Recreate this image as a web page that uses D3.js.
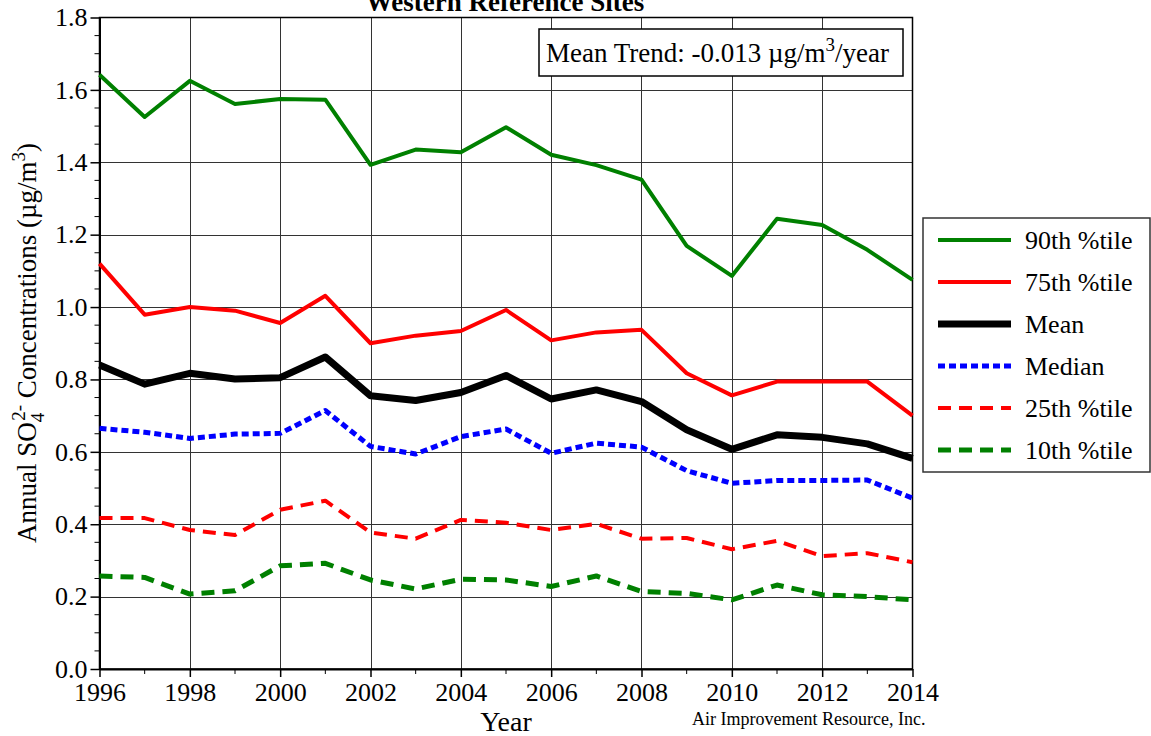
<!DOCTYPE html>
<html>
<head>
<meta charset="utf-8">
<script src="https://cdn.jsdelivr.net/npm/d3@7"></script>
<style>
  body { margin: 0; background: #fff; }
  svg { font-family: "Liberation Serif", "Times New Roman", serif; }
</style>
</head>
<body>
<svg width="1151" height="736"></svg>
<script>
// years on the x axis
const years = d3.range(1996, 2015);

// series values (ug/m3)
const p90 = [1.642, 1.525, 1.625, 1.561, 1.575, 1.573, 1.393, 1.435, 1.428, 1.497,
             1.421, 1.392, 1.352, 1.169, 1.086, 1.244, 1.227, 1.158, 1.075];
const p75 = [1.120, 0.979, 1.000, 0.990, 0.956, 1.031, 0.900, 0.921, 0.934, 0.992,
             0.908, 0.930, 0.937, 0.817, 0.756, 0.794, 0.794, 0.794, 0.700];
const mean = [0.840, 0.787, 0.817, 0.801, 0.805, 0.862, 0.755, 0.742, 0.764, 0.811,
              0.746, 0.771, 0.739, 0.661, 0.607, 0.647, 0.640, 0.622, 0.582];
const median = [0.665, 0.654, 0.637, 0.649, 0.651, 0.714, 0.615, 0.594, 0.642, 0.663,
                0.596, 0.624, 0.613, 0.548, 0.513, 0.521, 0.521, 0.522, 0.472];
const p25 = [0.417, 0.417, 0.384, 0.370, 0.440, 0.465, 0.377, 0.360, 0.412, 0.404,
             0.384, 0.401, 0.360, 0.362, 0.331, 0.354, 0.312, 0.320, 0.295];
const p10 = [0.257, 0.253, 0.207, 0.216, 0.285, 0.292, 0.246, 0.221, 0.248, 0.246,
             0.228, 0.257, 0.214, 0.209, 0.191, 0.232, 0.205, 0.200, 0.191];

const seriesNames = ["90th %tile", "75th %tile", "Mean", "Median", "25th %tile", "10th %tile"];
const xTicks = d3.range(1996, 2015, 2);
const yTicks = d3.range(0, 1.81, 0.2);

// line styles per series
const styles = [
  { color: "#008000", width: 4, dash: null },
  { color: "#ff0000", width: 4, dash: null },
  { color: "#000000", width: 7, dash: null },
  { color: "#0000ff", width: 5, dash: "7,4" },
  { color: "#ff0000", width: 4, dash: "13,8" },
  { color: "#008000", width: 5, dash: "13,8" }
];
const allSeries = [p90, p75, mean, median, p25, p10];

const svg = d3.select("svg");
const pLeft = 99.5, pRight = 912.5, pTop = 17.5, pBottom = 669;

const x = d3.scaleLinear().domain([1996, 2014]).range([pLeft, pRight]);
const y = d3.scaleLinear().domain([0, 1.8]).range([pBottom, pTop]);

// gridlines
const grid = svg.append("g").attr("stroke", "#333").attr("stroke-width", 1);
grid.selectAll(".gx").data(xTicks.slice(1, -1)).enter().append("line")
  .attr("x1", d => Math.round(x(d)) + 0.5).attr("x2", d => Math.round(x(d)) + 0.5)
  .attr("y1", pTop).attr("y2", pBottom);
grid.selectAll(".gy").data(yTicks.slice(1, -1)).enter().append("line")
  .attr("y1", d => Math.round(y(d)) + 0.5).attr("y2", d => Math.round(y(d)) + 0.5)
  .attr("x1", pLeft).attr("x2", pRight);

// frame
svg.append("rect")
  .attr("x", pLeft).attr("y", pTop).attr("width", pRight - pLeft).attr("height", pBottom - pTop)
  .attr("fill", "none").attr("stroke", "#000").attr("stroke-width", 1.5);

// axes
const xAxis = svg.append("g")
  .attr("transform", `translate(0,${pBottom})`)
  .call(d3.axisBottom(x).tickValues(xTicks).tickFormat(d3.format("d")).tickSize(8).tickSizeOuter(0).tickPadding(6));
xAxis.append("g").selectAll("line").data(d3.range(1997, 2014, 2)).enter().append("line")
  .attr("x1", d => x(d)).attr("x2", d => x(d)).attr("y1", 0).attr("y2", 5).attr("stroke", "#000");

const yAxis = svg.append("g")
  .attr("transform", `translate(${pLeft},0)`)
  .call(d3.axisLeft(y).tickValues(yTicks).tickFormat(d3.format(".1f")).tickSize(9).tickSizeOuter(0).tickPadding(3));
yAxis.append("g").selectAll("line").data(d3.range(0.05, 1.8, 0.05).filter((d, i) => (i + 1) % 4 !== 0)).enter().append("line")
  .attr("y1", d => y(d)).attr("y2", d => y(d)).attr("x1", 0).attr("x2", -5).attr("stroke", "#000");

[xAxis, yAxis].forEach(a => {
  a.select(".domain").attr("stroke-width", 2);
  a.selectAll(".tick line").attr("stroke-width", 1.5);
  a.selectAll("text").attr("font-family", "Liberation Serif").attr("font-size", 26).attr("fill", "#000");
});

// series lines
const line = d3.line().x((d, i) => x(years[i])).y(d => y(d));
allSeries.forEach((s, k) => {
  svg.append("path").datum(s)
    .attr("fill", "none")
    .attr("stroke", styles[k].color)
    .attr("stroke-width", styles[k].width)
    .attr("stroke-dasharray", styles[k].dash)
    .attr("stroke-linejoin", "round")
    .attr("d", line);
});

// title (partly cut at the top, as in the source)
svg.append("text").attr("x", 505).attr("y", 11).attr("text-anchor", "middle")
  .attr("font-size", 27).attr("font-weight", "bold").text("Western Reference Sites");

// trend box
svg.append("rect").attr("x", 539).attr("y", 29).attr("width", 364).attr("height", 47)
  .attr("fill", "#fff").attr("stroke", "#000").attr("stroke-width", 1.5);
const trend = svg.append("text").attr("x", 546).attr("y", 62).attr("font-size", 27);
trend.append("tspan").text("Mean Trend: -0.013 \u00b5g/m");
trend.append("tspan").attr("dy", -11).attr("font-size", 19).text("3");
trend.append("tspan").attr("dy", 11).text("/year");

// y axis label
const yl = svg.append("text")
  .attr("transform", "translate(36,343) rotate(-90)")
  .attr("text-anchor", "middle").attr("font-size", 27);
yl.append("tspan").text("Annual SO");
yl.append("tspan").attr("dy", 8).attr("font-size", 19).text("4");
yl.append("tspan").attr("dy", -19).attr("dx", -8).attr("font-size", 19).text("2-");
yl.append("tspan").attr("dy", 11).text(" Concentrations (\u00b5g/m");
yl.append("tspan").attr("dy", -11).attr("font-size", 19).text("3");
yl.append("tspan").attr("dy", 11).text(")");

// x axis label and credit
svg.append("text").attr("x", 506).attr("y", 731).attr("text-anchor", "middle")
  .attr("font-size", 28).text("Year");
svg.append("text").attr("x", 692).attr("y", 725).attr("font-size", 18)
  .text("Air Improvement Resource, Inc.");

// legend
svg.append("rect").attr("x", 923).attr("y", 218).attr("width", 227).attr("height", 254)
  .attr("fill", "#fff").attr("stroke", "#333").attr("stroke-width", 1.5);
const lg = svg.append("g").selectAll("g").data(seriesNames).enter().append("g")
  .attr("transform", (d, i) => `translate(0,${240 + i * 42})`);
lg.append("line").attr("x1", 938).attr("x2", 1011).attr("y1", 0).attr("y2", 0)
  .attr("stroke", (d, i) => styles[i].color)
  .attr("stroke-width", (d, i) => styles[i].width)
  .attr("stroke-dasharray", (d, i) => styles[i].dash);
lg.append("text").attr("x", 1025).attr("y", 9).attr("font-size", 26).text(d => d);
</script>
</body>
</html>
